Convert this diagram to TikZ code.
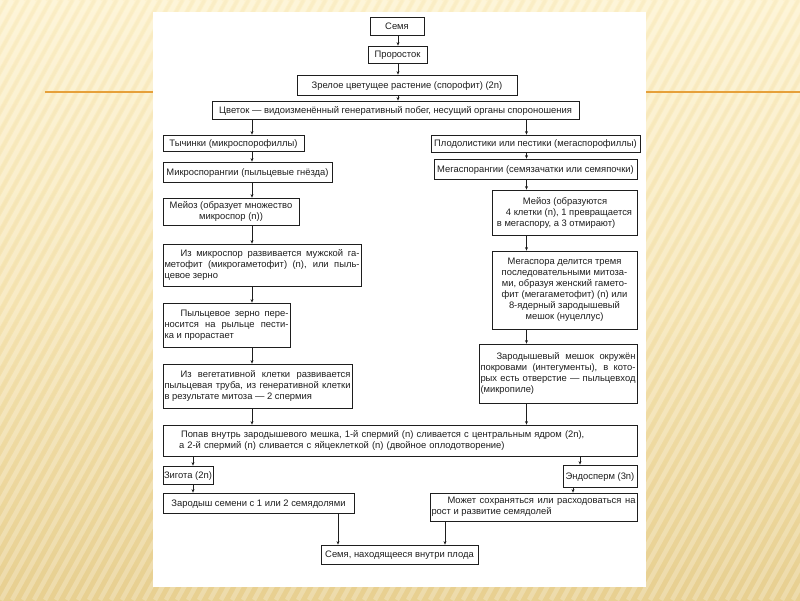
\documentclass[tikz,border=0pt]{standalone}
\usepackage{fontspec}
\setmainfont{Liberation Sans}
\usetikzlibrary{arrows.meta}
\definecolor{bgtop}{RGB}{253,242,206}
\definecolor{bgmid}{RGB}{246,229,180}
\definecolor{bgbot}{RGB}{232,208,145}
\definecolor{orangeline}{RGB}{230,160,58}
\definecolor{ink}{RGB}{30,30,30}
\hyphenpenalty=10000
\exhyphenpenalty=10000
\begin{document}
\begin{tikzpicture}[x=1pt,y=-1pt,
  box/.style={draw=ink, line width=0.8pt, fill=white, text=ink,
    font=\fontsize{9.4}{11}\selectfont,
    inner xsep=2pt, inner ysep=1pt, anchor=center},
  sbox/.style={box, text height=6.7pt, text depth=0pt},
  jbox/.style={box, align=justify, inner xsep=1.5pt},
  arr/.style={draw=ink, line width=0.7pt, -{Stealth[length=3.5pt,width=3pt]}},
  stripe/.style={white, opacity=0.24, line width=4.5pt},
  dstripe/.style={bgbot, opacity=0.14, line width=3pt}
]
\useasboundingbox (0,0) rectangle (800,600);
% background
\shade[top color=bgtop, bottom color=bgbot, middle color=bgmid] (0,0) rectangle (800,600);
\begin{scope}
  \clip (0,0) rectangle (800,600);
  \foreach \i in {-340,-329,...,800} {
    \draw[stripe] (\i,600) -- (\i+330,0);
    \draw[dstripe] (\i+5.5,600) -- (\i+335.5,0);
  }
\end{scope}
\draw[orangeline, line width=2pt] (45,92) -- (800,92);
\fill[white] (153,12) rectangle (646,587);

% column coordinates
\coordinate (cT) at (398,0);
\coordinate (cL) at (252,0);
\coordinate (cR) at (526.5,0);
\coordinate (cZ) at (193,0);
\coordinate (cE) at (580,0);
\coordinate (cEb) at (573,0);
\coordinate (cA) at (338,0);
\coordinate (cB) at (445,0);

% top chain
\node[sbox, minimum width=54pt, minimum height=18pt] (semya) at (397,26) {Семя};
\node[sbox, minimum width=59pt, minimum height=17pt] (prorostok) at (397.5,54.5) {Проросток};
\node[sbox, minimum width=220pt, minimum height=20pt] (zrel) at (407,85) {Зрелое цветущее растение (спорофит) (2n)};
\node[sbox, minimum width=367pt, minimum height=18pt, inner xsep=1pt] (tsvetok) at (395.5,110) {Цветок — видоизменённый генеративный побег, несущий органы спороношения};

% left column
\node[sbox, minimum width=141pt, minimum height=16pt] (tych) at (233.5,143) {Тычинки (микроспорофиллы)};
\node[sbox, minimum width=169pt, minimum height=20pt] (mikro) at (247.5,172) {Микроспорангии (пыльцевые гнёзда)};
\node[box, minimum width=136pt, minimum height=27pt, align=center] (meiozL) at (231,211.5) {Мейоз (образует множество\\микроспор (n))};
\node[jbox, text width=195pt, minimum height=42pt] (izmikro) at (262,265) {\hspace*{16pt}Из микроспор развивается мужской га-\linebreak метофит (микрогаметофит) (n), или пыль-\linebreak цевое зерно};
\node[jbox, text width=124pt, minimum height=44pt] (pyl) at (226.5,325) {\hspace*{16pt}Пыльцевое зерно пере-\linebreak носится на рыльце пести-\linebreak ка и прорастает};
\node[jbox, text width=186pt, minimum height=44pt] (izveg) at (257.5,386) {\hspace*{16pt}Из вегетативной клетки развивается\linebreak пыльцевая труба, из генеративной клетки\linebreak в результате митоза — 2 спермия};

% right column
\node[sbox, minimum width=209pt, minimum height=17pt] (plod) at (535.5,143.5) {Плодолистики или пестики (мегаспорофиллы)};
\node[sbox, minimum width=203pt, minimum height=20pt, inner xsep=1pt] (mega) at (535.5,169) {Мегаспорангии (семязачатки или семяпочки)};
\node[box, minimum width=145pt, minimum height=45pt, align=left] (meiozR) at (564.5,212.5) {\hspace*{26pt}Мейоз (образуются\\\hspace*{9pt}4 клетки (n), 1 превращается\\в мегаспору, а 3 отмирают)};
\node[box, minimum width=145pt, minimum height=78pt, align=center] (megaspora) at (564.5,290) {Мегаспора делится тремя\\последовательными митоза-\\ми, образуя женский гамето-\\фит (мегагаметофит) (n) или\\8-ядерный зародышевый\\мешок (нуцеллус)};
\node[jbox, text width=155pt, minimum height=59pt] (zarmesh) at (558,373.5) {\hspace*{16pt}Зародышевый мешок окружён\linebreak покровами (интегументы), в кото-\linebreak рых есть отверстие — пыльцевход\linebreak (микропиле)};

% fertilization
\node[box, minimum width=474pt, minimum height=31pt, align=left, text width=470pt] (big) at (400,440.5) {\hspace*{16pt}Попав внутрь зародышевого мешка, 1-й спермий (n) сливается с центральным ядром (2n),\\\hspace*{14pt}а 2-й спермий (n) сливается с яйцеклеткой (n) (двойное оплодотворение)};

% bottom
\node[sbox, minimum width=50pt, minimum height=18pt, inner xsep=0.5pt] (zigota) at (188,475) {Зигота (2n)};
\node[sbox, minimum width=74pt, minimum height=22pt, inner xsep=1pt] (endo) at (600,476) {Эндосперм (3n)};
\node[sbox, minimum width=191pt, minimum height=20pt] (zarodysh) at (258.5,503) {Зародыш семени с 1 или 2 семядолями};
\node[jbox, text width=204pt, minimum height=28pt] (mozhet) at (533.5,507) {\hspace*{16pt}Может сохраняться или расходоваться на\linebreak рост и развитие семядолей};
\node[sbox, minimum width=157pt, minimum height=19pt] (semyaF) at (399.5,554.5) {Семя, находящееся внутри плода};

% connectors
\draw[arr] (semya.south -| cT) -- (prorostok.north -| cT);
\draw[arr] (prorostok.south -| cT) -- (zrel.north -| cT);
\draw[arr] (zrel.south -| cT) -- (tsvetok.north -| cT);
\draw[arr] (tsvetok.south -| cL) -- (tych.north -| cL);
\draw[arr] (tsvetok.south -| cR) -- (plod.north -| cR);
\draw[arr] (tych.south -| cL) -- (mikro.north -| cL);
\draw[arr] (mikro.south -| cL) -- (meiozL.north -| cL);
\draw[arr] (meiozL.south -| cL) -- (izmikro.north -| cL);
\draw[arr] (izmikro.south -| cL) -- (pyl.north -| cL);
\draw[arr] (pyl.south -| cL) -- (izveg.north -| cL);
\draw[arr] (izveg.south -| cL) -- (big.north -| cL);
\draw[arr] (plod.south -| cR) -- (mega.north -| cR);
\draw[arr] (mega.south -| cR) -- (meiozR.north -| cR);
\draw[arr] (meiozR.south -| cR) -- (megaspora.north -| cR);
\draw[arr] (megaspora.south -| cR) -- (zarmesh.north -| cR);
\draw[arr] (zarmesh.south -| cR) -- (big.north -| cR);
\draw[arr] (big.south -| cZ) -- (zigota.north -| cZ);
\draw[arr] (zigota.south -| cZ) -- (zarodysh.north -| cZ);
\draw[arr] (big.south -| cE) -- (endo.north -| cE);
\draw[arr] (endo.south -| cEb) -- (mozhet.north -| cEb);
\draw[arr] (zarodysh.south -| cA) -- (semyaF.north -| cA);
\draw[arr] (mozhet.south -| cB) -- (semyaF.north -| cB);
\end{tikzpicture}
\end{document}
